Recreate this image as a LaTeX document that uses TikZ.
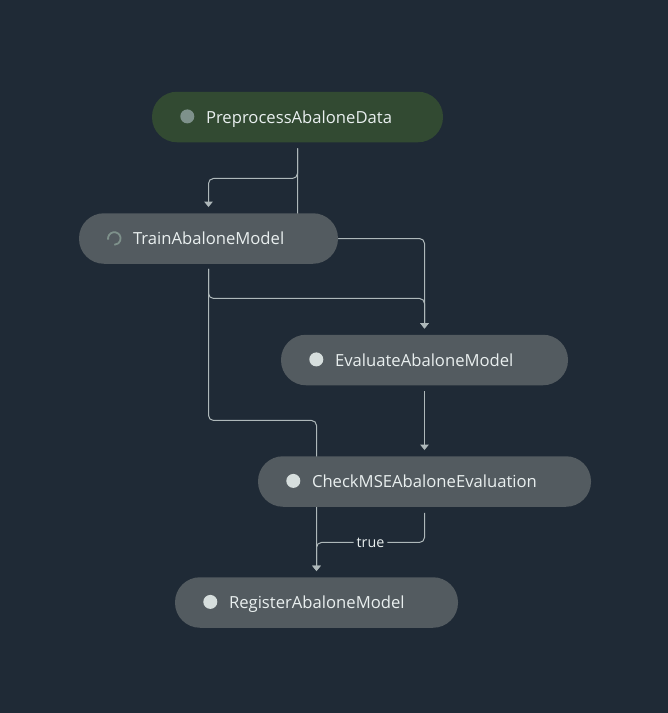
\documentclass[tikz,border=0pt]{standalone}
\usepackage{fontspec}
\setmainfont{Open Sans}
\usetikzlibrary{calc,backgrounds,arrows.meta}
\definecolor{bgc}{HTML}{1F2A36}
\definecolor{pillc}{HTML}{535B60}
\definecolor{donec}{HTML}{324A32}
\definecolor{linec}{HTML}{AEB8BA}
\definecolor{textc}{HTML}{E9EFEF}
\definecolor{dotc}{HTML}{D6DEDD}
\definecolor{dotdone}{HTML}{7E918B}
\tikzset{
  pill/.style={rounded corners=25pt, fill=pillc, text=textc, minimum height=50.5pt,
    inner xsep=54pt, inner ysep=0pt, text width=#1-108pt, align=left,
    text height=16pt, text depth=4pt,
    font=\fontsize{16.65}{18}\selectfont, anchor=center},
  dot/.style={circle, fill=dotc, minimum size=14pt, inner sep=0pt},
  edge/.style={draw=linec, line width=1pt, rounded corners=5pt},
  arrow/.style={edge, -{Triangle[width=8.5pt,length=5.5pt]}},
  lab/.style={fill=bgc, text=textc, inner xsep=3pt, inner ysep=1pt, font=\fontsize{14.3}{16}\selectfont}
}
\begin{document}
\begin{tikzpicture}[x=1pt,y=-1pt]
\useasboundingbox (0,0) rectangle (668,713);
\node[pill=291pt, fill=donec] (pre) at (297.5,117) {PreprocessAbaloneData};
\node[pill=259pt] (train) at (208.5,238.5) {TrainAbaloneModel};
\node[pill=287pt] (eval) at (424.5,360) {EvaluateAbaloneModel};
\node[pill=333pt] (check) at (424.5,481.5) {CheckMSEAbaloneEvaluation};
\node[pill=283pt] (reg) at (316.5,602.5) {RegisterAbaloneModel};
\node[dot, fill=dotdone] (d1) at ([xshift=35.5pt,yshift=0.6pt]pre.west) {};
\node[dot] (d3) at ([xshift=35.5pt,yshift=0.6pt]eval.west) {};
\node[dot] (d4) at ([xshift=35.5pt,yshift=0.6pt]check.west) {};
\node[dot] (d5) at ([xshift=35.5pt,yshift=0.6pt]reg.west) {};
\coordinate (d2) at ([xshift=35.5pt]train.west);
\draw[draw=dotdone, line width=1.8pt] ($(d2)+(-6.2,1.1)$) arc[start angle=190, end angle=-90, radius=6.3pt];
\begin{pgfonlayer}{background}
\fill[bgc] (0,0) rectangle (668,713);
\draw[arrow] ([yshift=-6pt]pre.south) -- ($(pre.south)+(0,36)$) -- ($(train.north |- pre.south)+(0,36)$) -- ([yshift=6pt]train.north);
\draw[arrow] ([yshift=-6pt]pre.south) -- (pre.south |- train.east) -- (eval.north |- train.east) -- ([yshift=6pt]eval.north);
\draw[arrow] ([yshift=-5pt]train.south) -- ($(train.south)+(0,34.5)$) -- ($(eval.north |- train.south)+(0,34.5)$) -- ([yshift=6pt]eval.north);
\draw[arrow] ([yshift=-5pt]train.south) -- ($(train.south)+(0,156.5)$) -- ($(reg.north |- train.south)+(0,156.5)$) -- ([yshift=6pt]reg.north);
\draw[arrow] ([yshift=-6pt]eval.south) -- ([yshift=6pt]check.north);
\draw[arrow] ([yshift=-6pt]check.south) -- ($(check.south)+(0,35.5)$) -- node[lab, pos=0.5] (t) {true} ($(reg.north |- check.south)+(0,35.5)$) -- ([yshift=6pt]reg.north);
\end{pgfonlayer}
\end{tikzpicture}
\end{document}
